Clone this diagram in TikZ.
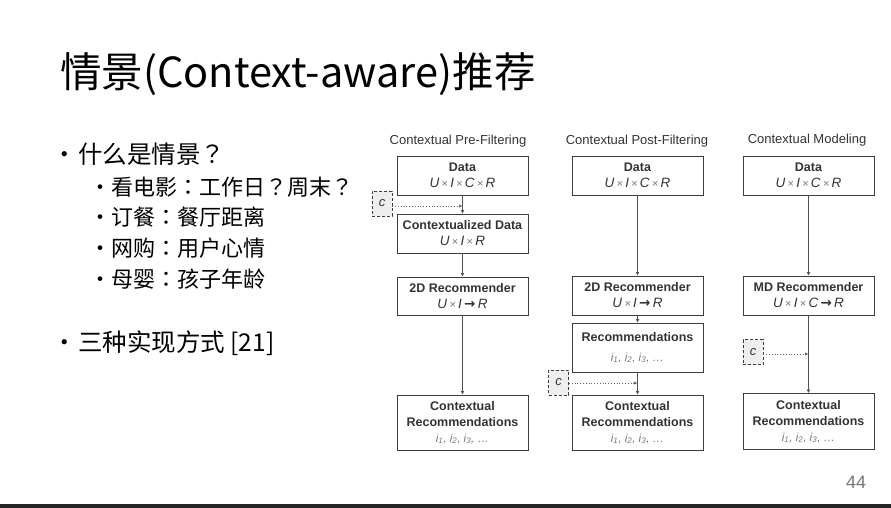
\documentclass[tikz,border=0pt]{standalone}
\usepackage{fontspec}
\setmainfont{Liberation Sans}
\newfontfamily\cjk{Noto Sans CJK SC}
\newfontfamily\cjkp{Noto Sans CJK TC}
\newfontfamily\symf{DejaVu Sans}
\usetikzlibrary{arrows.meta}
\definecolor{boxline}{HTML}{3C3C3C}
\definecolor{txt}{HTML}{333333}
\definecolor{idx}{HTML}{777777}
\definecolor{cfill}{HTML}{EEEEEE}
\definecolor{barcol}{HTML}{262626}
\newcommand{\tms}{\,{\color{idx}\fontsize{11}{12}\selectfont ×}\,}
\newcommand{\rarr}{\,{\symf\bfseries →}\,}
\newcommand{\fml}[1]{{\fontsize{13.5}{16}\selectfont #1}}
\newcommand{\qm}{{\cjkp ？}}
\newcommand{\cl}{{\cjkp ：}}
\newcommand{\idxs}{{\color{idx}\fontsize{11.5}{12}\selectfont\itshape i\textsubscript{1}, i\textsubscript{2}, i\textsubscript{3}, …}}
\tikzset{
  boxn/.style={draw=boxline, line width=0.8pt, fill=white, minimum width=131pt, inner sep=0pt,
    align=center, text=txt, font=\fontsize{12.5}{16}\selectfont},
  cbox/.style={draw=boxline, dashed, dash pattern=on 3pt off 2pt, line width=0.8pt, fill=cfill,
    minimum width=20pt, minimum height=25pt, inner sep=0pt, font=\fontsize{13}{14}\selectfont\itshape, text=txt},
  flow/.style={draw=boxline!90, line width=0.7pt, -{Latex[length=3.5pt,width=3.5pt]}},
  dotflow/.style={draw=boxline!80, line width=0.8pt, dotted, -{Latex[length=3.5pt,width=3.5pt]}},
  coltitle/.style={inner sep=0pt, text=txt, font=\fontsize{13}{15}\selectfont},
  lvlone/.style={anchor=base west, inner sep=0pt, font=\cjk\fontsize{24.5}{26}\selectfont},
  lvltwo/.style={anchor=base west, inner sep=0pt, font=\cjk\fontsize{22}{24}\selectfont},
}
\begin{document}
\begin{tikzpicture}[x=1pt,y=-1pt]
\useasboundingbox (0,0) rectangle (891,508);
\fill[white] (0,0) rectangle (891,508);
\fill[barcol] (0,504) rectangle (891,508);

% title
\node[anchor=base west, inner sep=0pt, font=\cjk\fontsize{41.5}{44}\selectfont] (title) at (60,88) {情景(Context-aware)推荐};

% bullets
\node[lvlone] (b1d) at (52,163) {•};
\node[lvlone] (b1) at (78,163) {什么是情景\qm};
\node[lvltwo] (s1d) at (89,195) {•};
\node[lvltwo] (s1) at (111,195) {看电影\cl 工作日\qm 周末\qm};
\node[lvltwo] (s2d) at (89,225) {•};
\node[lvltwo] (s2) at (111,225) {订餐\cl 餐厅距离};
\node[lvltwo] (s3d) at (89,256) {•};
\node[lvltwo] (s3) at (111,256) {网购\cl 用户心情};
\node[lvltwo] (s4d) at (89,287) {•};
\node[lvltwo] (s4) at (111,287) {母婴\cl 孩子年龄};
\node[lvlone] (b2d) at (52,351) {•};
\node[lvlone] (b2) at (78,351) {三种实现方式 [21]};

% column titles
\node[coltitle] (t1) at (458,141) {Contextual Pre-Filtering};
\node[coltitle] (t2) at (637,141) {Contextual Post-Filtering};
\node[coltitle] (t3) at (807,140) {Contextual Modeling};

% column 1
\node[boxn, minimum height=39pt] (d1) at (462.5,175.5) {\textbf{Data}\\\fml{\textit{U}\tms\textit{I}\tms\textit{C}\tms\textit{R}}};
\node[boxn, minimum height=39pt] (cd1) at (462.5,233.5) {\textbf{Contextualized Data}\\\fml{\textit{U}\tms\textit{I}\tms\textit{R}}};
\node[boxn, minimum height=38pt] (r1) at (462.5,296) {\textbf{2D Recommender}\\\fml{\textit{U}\tms\textit{I}\rarr\textit{R}}};
\node[boxn, minimum height=55pt] (cr1) at (462.5,422.5) {\textbf{Contextual}\\\textbf{Recommendations}\\\idxs};
\node[cbox] (c1) at (382,203.5) {c};
\coordinate (j1) at (462.5,206);
\draw[flow] (d1) -- (cd1);
\draw[flow] (cd1) -- (r1);
\draw[flow] (r1) -- (cr1);
\draw[dotflow] (c1.east |- j1) -- (j1);

% column 2
\node[boxn, minimum height=39pt] (d2) at (637.5,175.5) {\textbf{Data}\\\fml{\textit{U}\tms\textit{I}\tms\textit{C}\tms\textit{R}}};
\node[boxn, minimum height=39pt] (r2) at (637.5,295.5) {\textbf{2D Recommender}\\\fml{\textit{U}\tms\textit{I}\rarr\textit{R}}};
\node[boxn, minimum height=49pt] (rec2) at (637.5,347.5) {\textbf{Recommendations}\\[4pt]\idxs};
\node[boxn, minimum height=55pt] (cr2) at (637.5,422.5) {\textbf{Contextual}\\\textbf{Recommendations}\\\idxs};
\node[cbox] (c2) at (558.5,382.5) {c};
\coordinate (j2) at (637.5,383);
\draw[flow] (d2) -- (r2);
\draw[flow] (r2) -- (rec2);
\draw[flow] (rec2) -- (cr2);
\draw[dotflow] (c2.east |- j2) -- (j2);

% column 3
\node[boxn, minimum height=39pt] (d3) at (808.5,175.5) {\textbf{Data}\\\fml{\textit{U}\tms\textit{I}\tms\textit{C}\tms\textit{R}}};
\node[boxn, minimum height=39pt] (m3) at (808.5,295.5) {\textbf{MD Recommender}\\\fml{\textit{U}\tms\textit{I}\tms\textit{C}\rarr\textit{R}}};
\node[boxn, minimum height=56pt] (cr3) at (808.5,421.5) {\textbf{Contextual}\\\textbf{Recommendations}\\\idxs};
\node[cbox] (c3) at (753,352) {c};
\coordinate (j3) at (808.5,354);
\draw[flow] (d3) -- (m3);
\draw[flow] (m3) -- (cr3);
\draw[dotflow] (c3.east |- j3) -- (j3);

% page number
\node[inner sep=0pt, text=idx, font=\fontsize{18}{20}\selectfont] (pg) at (856,482) {44};
\end{tikzpicture}
\end{document}
